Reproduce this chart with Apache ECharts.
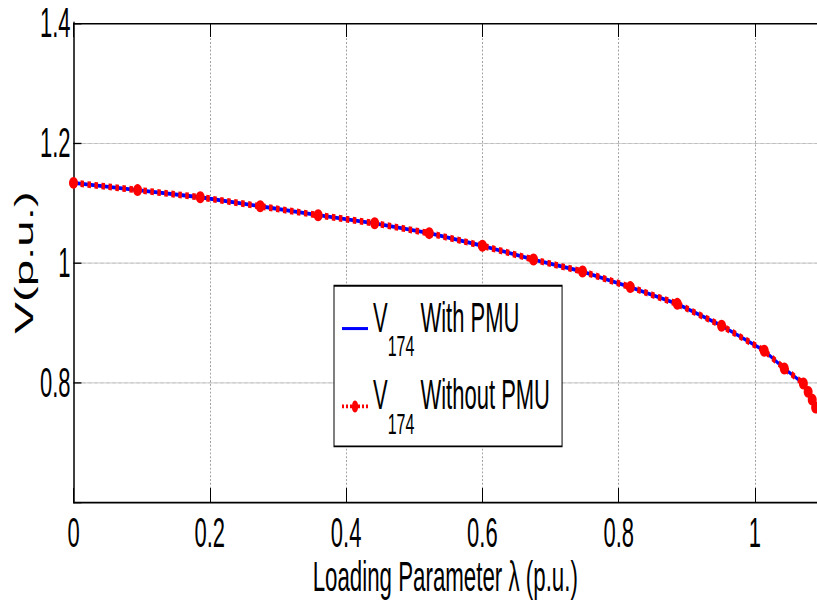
<!DOCTYPE html>
<html>
<head>
<meta charset="utf-8">
<script src="https://cdn.jsdelivr.net/npm/echarts@6/dist/echarts.min.js"></script>
<style>
html,body{margin:0;padding:0;background:#fff;overflow:hidden;}
#wrap{width:817px;height:610px;overflow:hidden;position:relative;background:#fff;}
#chart{width:817px;height:321px;transform:scaleY(1.9003);transform-origin:0 0;}
</style>
</head>
<body>
<div id="wrap"><div id="chart"></div></div>
<script>
// Loading parameter lambda (p.u.)
const lambda = [0, 0.094, 0.186, 0.274, 0.359, 0.442, 0.522, 0.600, 0.675, 0.747, 0.817, 0.886, 0.951, 1.0136, 1.043, 1.071, 1.078, 1.084, 1.089, 1.092];
// V174 with PMU (p.u.)
const vWithPMU = [1.133, 1.121, 1.109, 1.094, 1.079, 1.0655, 1.049, 1.028, 1.005, 0.985, 0.959, 0.931, 0.8945, 0.8527, 0.823, 0.798, 0.784, 0.771, 0.758, 0.750];
// V174 without PMU (p.u.)
const vWithoutPMU = [1.133, 1.121, 1.109, 1.094, 1.079, 1.0655, 1.049, 1.028, 1.005, 0.985, 0.959, 0.931, 0.8945, 0.8527, 0.823, 0.798, 0.784, 0.771, 0.758, 0.750];
const xTicks = [0, 0.2, 0.4, 0.6, 0.8, 1];
const xTickLabels = ['0', '0.2', '0.4', '0.6', '0.8', '1'];
const yTicks = [0.8, 1, 1.2, 1.4];
const yTickLabels = ['0.8', '1', '1.2', '1.4'];
const seriesNames = ['V174 With PMU', 'V174 Without PMU'];

const FONT = "'Liberation Sans', Arial, Helvetica, sans-serif";

function tickLabel(v, ticks, labels) {
  for (let i = 0; i < ticks.length; i++) {
    if (Math.abs(v - ticks[i]) < 1e-6) return labels[i];
  }
  return '';
}

const chart = echarts.init(document.getElementById('chart'), null, {renderer: 'svg'});
chart.setOption({
  animation: false,
  backgroundColor: '#fff',
  grid: {left: 73.5, right: 0, top: 12.1, bottom: 56.8, containLabel: false, outerBoundsMode: 'none'},
  xAxis: [{
    type: 'value', position: 'bottom', min: 0, max: 1.091, interval: 0.2,
    axisLine: {show: true, onZero: false, lineStyle: {color: '#000', width: 1}},
    axisTick: {show: true, inside: true, length: 7.4, lineStyle: {color: '#000', width: 1}},
    axisLabel: {show: true, margin: 5, color: '#000', fontFamily: FONT, fontSize: 22,
      formatter: v => tickLabel(v, xTicks, xTickLabels)},
    splitLine: {show: true, showMinLine: false, showMaxLine: false,
      lineStyle: {color: '#a0a0a0', type: 'dotted', width: 1}},
    name: 'Loading Parameter λ (p.u.)', nameLocation: 'middle', nameGap: 28, nameMoveOverlap: false,
    nameTextStyle: {color: '#000', fontFamily: FONT, fontSize: 22.3}
  }, {
    type: 'value', position: 'top', min: 0, max: 1.091, interval: 0.2,
    axisLine: {show: true, onZero: false, lineStyle: {color: '#000', width: 0.8}},
    axisTick: {show: true, inside: true, length: 7.4, lineStyle: {color: '#000', width: 1}},
    axisLabel: {show: false},
    splitLine: {show: false}
  }],
  yAxis: {
    type: 'value', min: 0.6, max: 1.4, interval: 0.2,
    axisLine: {show: true, onZero: false, lineStyle: {color: '#000', width: 1.5}},
    axisTick: {show: true, inside: true, length: 8, lineStyle: {color: '#000', width: 0.7}},
    axisLabel: {show: true, margin: 3, color: '#000', fontFamily: FONT, fontSize: 22,
      formatter: v => tickLabel(v, yTicks, yTickLabels)},
    splitLine: {show: true, showMinLine: false, showMaxLine: false,
      lineStyle: {color: '#909090', type: 'dotted', width: 0.6}},
    name: 'V(p.u.)', nameLocation: 'middle', nameGap: 37, nameRotate: 90, nameMoveOverlap: false,
    nameTextStyle: {color: '#000', fontFamily: FONT, fontSize: 25}
  },
  legend: {
    show: true, orient: 'vertical', left: 334, top: 150.4,
    padding: [5.5, 12, 4, 7], itemGap: 7, itemWidth: 26, itemHeight: 8,
    borderColor: '#000', borderWidth: 1, backgroundColor: '#fff',
    data: [
      {name: seriesNames[0], itemStyle: {opacity: 0}, lineStyle: {width: 1.6}},
      {name: seriesNames[1]}
    ],
    formatter: name => '{v|V}{s|174}{t|' + name.replace('V174', '') + '}',
    textStyle: {
      color: '#000', fontFamily: FONT, fontSize: 22,
      rich: {
        v: {fontFamily: FONT, fontSize: 22, color: '#000', verticalAlign: 'top'},
        s: {fontFamily: FONT, fontSize: 16, color: '#000', verticalAlign: 'top', padding: [18, 0, 0, 0]},
        t: {fontFamily: FONT, fontSize: 22, color: '#000', verticalAlign: 'top'}
      }
    }
  },
  series: [{
    name: seriesNames[0], type: 'line', xAxisIndex: 0,
    data: lambda.map((x, i) => [x, vWithPMU[i]]),
    symbol: 'none', showSymbol: false, clip: true, z: 2,
    lineStyle: {color: '#0000ff', width: 2},
    itemStyle: {color: '#0000ff'}
  }, {
    name: seriesNames[1], type: 'line', xAxisIndex: 0,
    data: lambda.map((x, i) => [x, vWithoutPMU[i]]),
    symbol: 'circle', symbolSize: [9, 6.3], showSymbol: true, showAllSymbol: true, clip: true, z: 3,
    lineStyle: {color: '#ff0000', width: 3.5, type: 'dotted'},
    itemStyle: {color: '#ff0000', borderWidth: 0}
  }]
});
</script>
</body>
</html>
